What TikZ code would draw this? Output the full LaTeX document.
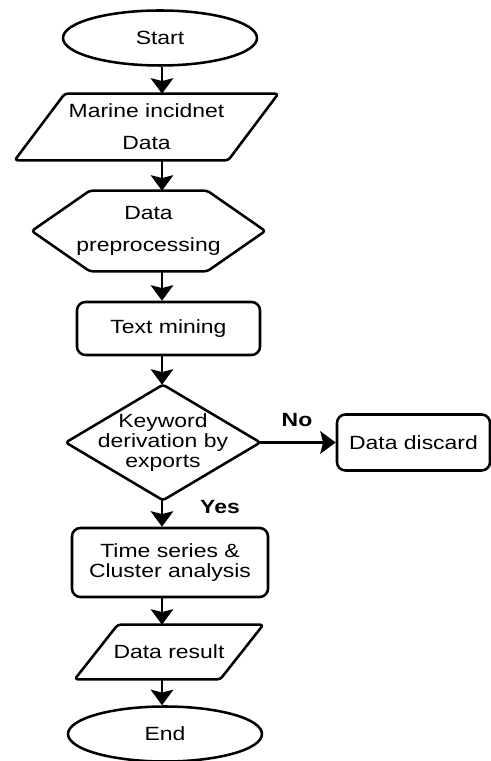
\documentclass[tikz,border=0pt]{standalone}
\usepackage{fontspec}
\setmainfont[FakeStretch=1.2]{Liberation Sans}
\usetikzlibrary{shapes.geometric,arrows.meta}

\begin{document}
\begin{tikzpicture}[
  every node/.style={font=\fontsize{13.6}{14}\selectfont},
  thickline/.style={line width=1.8pt},
  arrow/.style={thickline, -{Stealth[length=11pt,width=16pt,inset=2pt]}},
  terminal/.style={ellipse, draw, thickline, inner sep=0pt, minimum width=4.85cm, minimum height=1.375cm},
  process/.style={rectangle, draw, thickline, rounded corners=6pt, inner sep=0pt, align=center},
  body/.style={rectangle, inner sep=0pt, align=center},
  outline/.style={thickline, rounded corners=2pt, line join=round},
  answer/.style={font=\fontsize{13.6}{14}\selectfont\bfseries}
]
\useasboundingbox (0,0) rectangle (12.275,19.025);

% main column
\coordinate (axis) at (4.05,0);

% start and input
\node[terminal] (start) at (4.0,18.075) {Start};
\node[body, minimum width=6.575cm, minimum height=1.65cm] (marine) at (3.6625,15.85) {Marine incidnet\\[9pt]Data};
\draw[outline] ([xshift=1.25cm]marine.north west) -- (marine.north east)
  -- ([xshift=-1.25cm]marine.south east) -- (marine.south west) -- cycle;

% preprocessing hexagon
\node[body, minimum width=5.825cm, minimum height=2cm] (prep) at (3.7125,13.25) {Data\\[9pt]preprocessing};
\draw[outline] (prep.west) -- ([xshift=1.45cm]prep.north west) -- ([xshift=-1.45cm]prep.north east)
  -- (prep.east) -- ([xshift=-1.45cm]prep.south east) -- ([xshift=1.45cm]prep.south west) -- cycle;

% mining and decision
\node[process, minimum width=4.575cm, minimum height=1.325cm] (mining) at (4.2125,10.8125) {Text mining};
\node[body, minimum width=4.85cm, minimum height=2.875cm] (keyword) at (4.075,7.9625) {Keyword\\derivation by\\exports};
\draw[outline] (keyword.north) -- (keyword.east) -- (keyword.south) -- (keyword.west) -- cycle;
\node[process, minimum width=3.825cm, minimum height=1.4cm] (discard) at (10.3375,7.9625) {Data discard};

% analysis and output
\node[process, minimum width=4.9cm, minimum height=1.725cm] (analysis) at (4.25,4.9625) {Time series \&\\Cluster analysis};
\node[body, minimum width=4.7cm, minimum height=1.35cm] (result) at (4.225,2.725) {Data result};
\draw[outline] ([xshift=1.075cm]result.north west) -- (result.north east)
  -- ([xshift=-1.075cm]result.south east) -- (result.south west) -- cycle;
\node[terminal] (finish) at (4.125,0.675) {End};

% branch labels
\node[answer] (no) at (7.425,8.525) {No};
\node[answer] (yes) at (5.5,6.35) {Yes};

% connectors
\draw[arrow] (start.south -| axis) -- (marine.north -| axis);
\draw[arrow] (marine.south -| axis) -- (prep.north -| axis);
\draw[arrow] (prep.south -| axis) -- (mining.north -| axis);
\draw[arrow] (mining.south -| axis) -- (keyword.north -| axis);
\draw[arrow] (keyword.east) -- (discard.west);
\draw[arrow] (keyword.south -| axis) -- (analysis.north -| axis);
\draw[arrow] (analysis.south -| axis) -- (result.north -| axis);
\draw[arrow] (result.south -| axis) -- (finish.north -| axis);

\end{tikzpicture}
\end{document}
